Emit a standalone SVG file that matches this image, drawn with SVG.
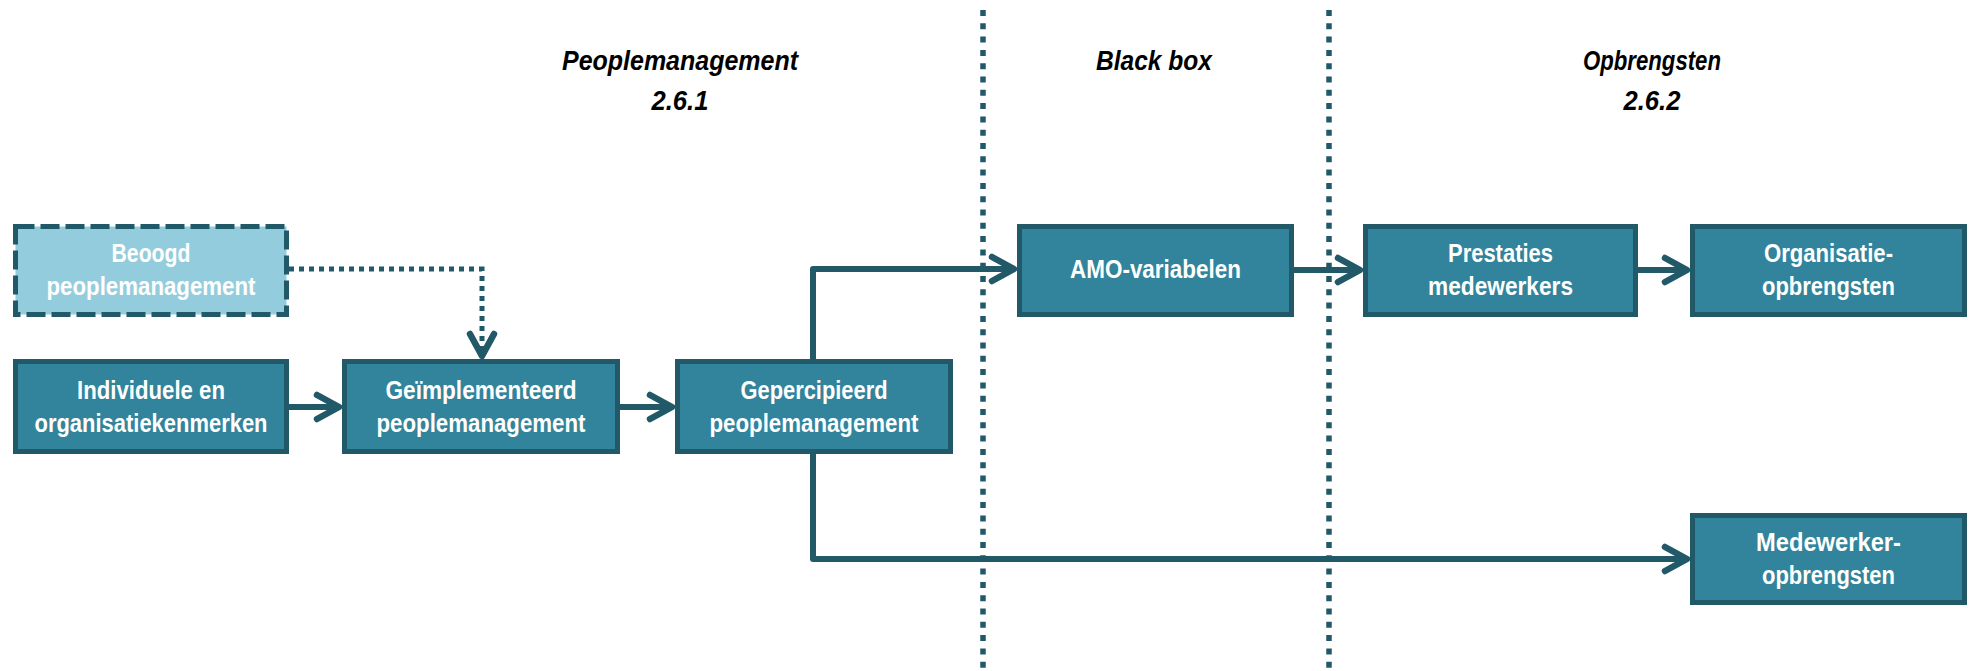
<svg xmlns="http://www.w3.org/2000/svg" width="1973" height="671" viewBox="0 0 1973 671">
  <style>
    .box { fill: #31849B; stroke: #215968; stroke-width: 5; }
    .box-light { fill: #93CDDD; stroke: #215968; stroke-width: 5; stroke-dasharray: 19 6; }
    .lbl { font-family: "Liberation Sans", Arial, sans-serif; font-weight: bold; font-size: 25px; fill: #FFFFFF; text-anchor: middle; }
    .title { font-family: "Liberation Sans", Arial, sans-serif; font-weight: bold; font-style: italic; font-size: 28px; fill: #000000; text-anchor: middle; }
    .sep { fill: none; stroke: #215968; stroke-width: 5.5; stroke-dasharray: 6 7.3; }
    .conn { fill: none; stroke: #215968; stroke-width: 6; stroke-linejoin: round; marker-end: url(#arr); }
    .conn-dot { fill: none; stroke: #215968; stroke-width: 5; stroke-dasharray: 5 5; marker-end: url(#arr); }
  </style>
  <defs>
    <marker id="arr" markerUnits="userSpaceOnUse" viewBox="-30 -16 36 32" markerWidth="36" markerHeight="32" refX="0" refY="0" orient="auto" overflow="visible">
      <path d="M-22,-12 L0,0 L-22,12" fill="none" stroke="#215968" stroke-width="6.5" stroke-linecap="round" stroke-linejoin="round"/>
    </marker>
  </defs>

  <rect width="1973" height="671" fill="#FFFFFF"/>

  <!-- column headings -->
  <g id="headings">
    <text class="title" x="680" y="70" textLength="236" lengthAdjust="spacingAndGlyphs">Peoplemanagement</text>
    <text class="title" x="680" y="110" textLength="57" lengthAdjust="spacingAndGlyphs">2.6.1</text>
    <text class="title" x="1154" y="70" textLength="116" lengthAdjust="spacingAndGlyphs">Black box</text>
    <text class="title" x="1652" y="70" textLength="138" lengthAdjust="spacingAndGlyphs">Opbrengsten</text>
    <text class="title" x="1652" y="110" textLength="57" lengthAdjust="spacingAndGlyphs">2.6.2</text>
  </g>

  <!-- section separators -->
  <g id="separators">
    <line class="sep" x1="983" y1="10" x2="983" y2="671"/>
    <line class="sep" x1="1329" y1="10" x2="1329" y2="671"/>
  </g>

  <!-- connectors -->
  <g id="connectors">
    <path class="conn-dot" d="M289,269 H482 V356"/>
    <path class="conn" d="M289,407 H339"/>
    <path class="conn" d="M620,407 H672"/>
    <path class="conn" d="M813,361 V269 H1014"/>
    <path class="conn" d="M813,454 V559 H1687"/>
    <path class="conn" d="M1294,270 H1360"/>
    <path class="conn" d="M1638,270 H1687"/>
  </g>

  <!-- nodes -->
  <g id="beoogd">
    <rect class="box-light" x="15.5" y="226.5" width="271" height="88"/>
    <text class="lbl" x="151" y="262" textLength="79" lengthAdjust="spacingAndGlyphs">Beoogd</text>
    <text class="lbl" x="151" y="295" textLength="209" lengthAdjust="spacingAndGlyphs">peoplemanagement</text>
  </g>
  <g id="individuele">
    <rect class="box" x="15.5" y="361.5" width="271" height="90"/>
    <text class="lbl" x="151" y="399" textLength="148" lengthAdjust="spacingAndGlyphs">Individuele en</text>
    <text class="lbl" x="151" y="432" textLength="233" lengthAdjust="spacingAndGlyphs">organisatiekenmerken</text>
  </g>
  <g id="geimplementeerd">
    <rect class="box" x="344.5" y="361.5" width="273" height="90"/>
    <text class="lbl" x="481" y="399" textLength="191" lengthAdjust="spacingAndGlyphs">Geïmplementeerd</text>
    <text class="lbl" x="481" y="432" textLength="209" lengthAdjust="spacingAndGlyphs">peoplemanagement</text>
  </g>
  <g id="gepercipieerd">
    <rect class="box" x="677.5" y="361.5" width="273" height="90"/>
    <text class="lbl" x="814" y="399" textLength="147" lengthAdjust="spacingAndGlyphs">Gepercipieerd</text>
    <text class="lbl" x="814" y="432" textLength="209" lengthAdjust="spacingAndGlyphs">peoplemanagement</text>
  </g>
  <g id="amo">
    <rect class="box" x="1019.5" y="226.5" width="272" height="88"/>
    <text class="lbl" x="1155.5" y="278" textLength="171" lengthAdjust="spacingAndGlyphs">AMO-variabelen</text>
  </g>
  <g id="prestaties">
    <rect class="box" x="1365.5" y="226.5" width="270" height="88"/>
    <text class="lbl" x="1500.5" y="262" textLength="105" lengthAdjust="spacingAndGlyphs">Prestaties</text>
    <text class="lbl" x="1500.5" y="295" textLength="145" lengthAdjust="spacingAndGlyphs">medewerkers</text>
  </g>
  <g id="organisatie">
    <rect class="box" x="1692.5" y="226.5" width="272" height="88"/>
    <text class="lbl" x="1828.5" y="262" textLength="129" lengthAdjust="spacingAndGlyphs">Organisatie-</text>
    <text class="lbl" x="1828.5" y="295" textLength="133" lengthAdjust="spacingAndGlyphs">opbrengsten</text>
  </g>
  <g id="medewerker">
    <rect class="box" x="1692.5" y="515.5" width="272" height="87"/>
    <text class="lbl" x="1828.5" y="551" textLength="145" lengthAdjust="spacingAndGlyphs">Medewerker-</text>
    <text class="lbl" x="1828.5" y="584" textLength="133" lengthAdjust="spacingAndGlyphs">opbrengsten</text>
  </g>
</svg>
